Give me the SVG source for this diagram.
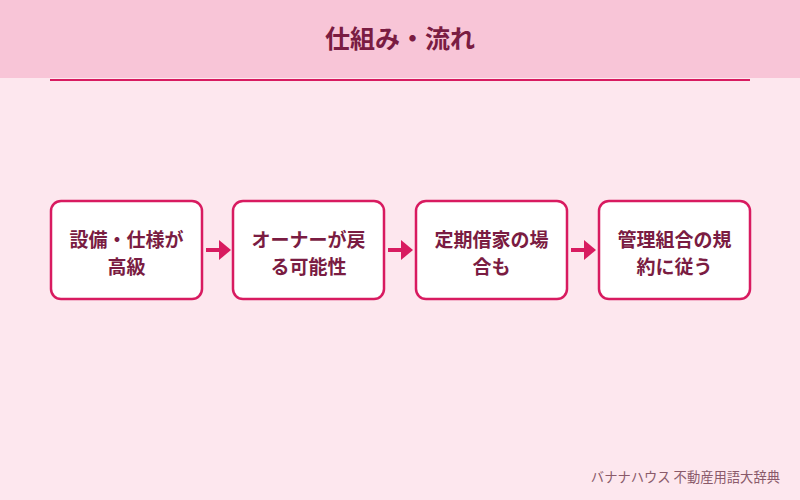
<svg xmlns="http://www.w3.org/2000/svg" width="800" height="500" viewBox="0 0 800 500">
<style>
.box{fill:#fff;stroke:#d81b60;stroke-width:2.5}
.t{font-family:"Noto Sans CJK JP",sans-serif;font-weight:bold;font-size:19px;fill:#7a1c42;text-anchor:middle}
.a{stroke:#d81b60;stroke-width:4;fill:none}
.h{fill:#d81b60}
</style>
<rect width="800" height="500" fill="#fde7ee"/>
<rect width="800" height="78" fill="#f8c5d7"/>
<line x1="50" y1="80" x2="750" y2="80" stroke="#d81b60" stroke-width="2"/>
<text x="400" y="48" class="t" style="font-size:25px">仕組み・流れ</text>
<g id="n1"><rect class="box" x="51" y="201" width="151" height="98" rx="10"/><text class="t" x="126.5" y="247">設備・仕様が</text><text class="t" x="126.5" y="274">高級</text></g>
<g id="n2"><rect class="box" x="233" y="201" width="151" height="98" rx="10"/><text class="t" x="308.5" y="247">オーナーが戻</text><text class="t" x="308.5" y="274">る可能性</text></g>
<g id="n3"><rect class="box" x="416" y="201" width="151" height="98" rx="10"/><text class="t" x="491.5" y="247">定期借家の場</text><text class="t" x="491.5" y="274">合も</text></g>
<g id="n4"><rect class="box" x="599" y="201" width="151" height="98" rx="10"/><text class="t" x="674.5" y="247">管理組合の規</text><text class="t" x="674.5" y="274">約に従う</text></g>
<g id="connectors">
<line class="a" x1="206" y1="250" x2="221" y2="250"/><polygon class="h" points="219,240 231,250 219,260"/>
<line class="a" x1="388" y1="250" x2="403" y2="250"/><polygon class="h" points="401,240 413,250 401,260"/>
<line class="a" x1="571" y1="250" x2="586" y2="250"/><polygon class="h" points="584,240 596,250 584,260"/>
</g>
<text x="780" y="482" style="font-family:'Noto Sans CJK JP',sans-serif;font-size:13.3px;fill:#8a5a6a;text-anchor:end">バナナハウス 不動産用語大辞典</text>
</svg>
